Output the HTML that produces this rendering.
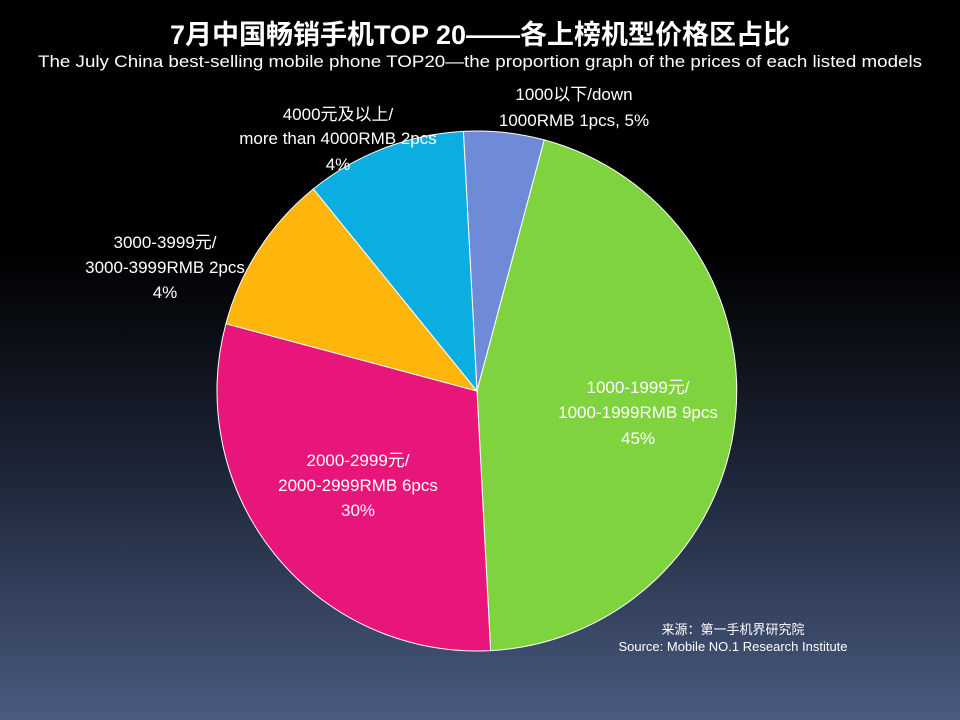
<!DOCTYPE html>
<html><head><meta charset="utf-8"><style>
html,body{margin:0;padding:0}
body{width:960px;height:720px;overflow:hidden;background:linear-gradient(to bottom,#000 0%,#000 35%,#1c2436 65%,#4a5a80 100%);font-family:"Liberation Sans","Noto Sans CJK SC",sans-serif;}
</style></head><body>
<svg width="960" height="720" xmlns="http://www.w3.org/2000/svg" style="position:absolute;left:0;top:0">
<text x="480" y="44" text-anchor="middle" fill="#fff" font-size="27" font-weight="bold" font-family="Liberation Sans,Noto Sans CJK SC,sans-serif" textLength="620" lengthAdjust="spacingAndGlyphs">7月中国畅销手机TOP 20——各上榜机型价格区占比</text>
<text x="480" y="67" text-anchor="middle" fill="#fff" font-size="17" font-family="Liberation Sans,sans-serif" textLength="884" lengthAdjust="spacingAndGlyphs">The  July China best-selling mobile phone TOP20—the proportion graph of the prices of each listed models</text>
<g stroke="#fff" stroke-width="1">
<path d="M477,391 L463.4,131.4 A260,260 0 0 1 544.3,139.9 Z" fill="#6f8ad6"/>
<path d="M477,391 L544.3,139.9 A260,260 0 0 1 490.6,650.6 Z" fill="#7ed33e"/>
<path d="M477,391 L490.6,650.6 A260,260 0 0 1 225.9,323.7 Z" fill="#e8157a"/>
<path d="M477,391 L225.9,323.7 A260,260 0 0 1 313.4,188.9 Z" fill="#ffb60c"/>
<path d="M477,391 L313.4,188.9 A260,260 0 0 1 463.4,131.4 Z" fill="#0aaee0"/>
</g>
<g fill="#fff" font-size="17" text-anchor="middle" font-family="Liberation Sans,Noto Sans CJK SC,sans-serif">
<text x="574" y="100">1000以下/down</text>
<text x="574" y="126">1000RMB 1pcs, 5%</text>
<text x="338" y="120">4000元及以上/</text>
<text x="338" y="144">more than 4000RMB  2pcs</text>
<text x="338" y="170">4%</text>
<text x="165" y="248">3000-3999元/</text>
<text x="165" y="273">3000-3999RMB  2pcs</text>
<text x="165" y="298">4%</text>
<text x="638" y="393">1000-1999元/</text>
<text x="638" y="418">1000-1999RMB  9pcs</text>
<text x="638" y="444">45%</text>
<text x="358" y="466">2000-2999元/</text>
<text x="358" y="491">2000-2999RMB  6pcs</text>
<text x="358" y="516">30%</text>
</g>
<g fill="#fff" font-size="13" text-anchor="middle" font-family="Liberation Sans,Noto Sans CJK SC,sans-serif">
<text x="733" y="634">来源：第一手机界研究院</text>
<text x="733" y="651">Source: Mobile NO.1 Research Institute</text>
</g>
</svg>
</body></html>
